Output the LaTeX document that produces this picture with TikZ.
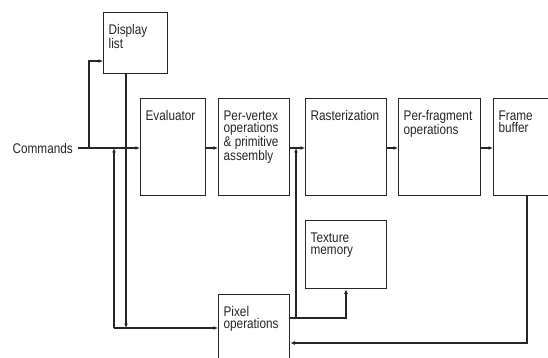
\documentclass[tikz,border=0pt]{standalone}
\usepackage{fontspec}
\setmainfont{Liberation Sans}[FakeStretch=0.84]
\usetikzlibrary{arrows.meta}
\begin{document}
\begin{tikzpicture}[x=1pt,y=-1pt,
  line width=1.3pt, draw=black!85,
  box/.style={draw=black!85, line width=1.4pt, anchor=north west, inner sep=0pt},
  lbl/.style={anchor=north west, inner sep=0pt, align=left, xshift=5pt, yshift=-12pt,
    font=\fontsize{14}{11.8}\selectfont, text=black!85},
  arr/.style={-{Latex[length=4.5pt,width=4pt]}},
  every node/.style={font=\fontsize{14}{11.8}\selectfont}]
\clip (0,0) rectangle (548,358);
\fill[white] (0,0) rectangle (548,358);
% boxes
\node[box, minimum width=64pt, minimum height=61pt,
  label={[lbl]north west:Display\\list}] (disp) at (103,12) {};
\node[box, minimum width=65pt, minimum height=97pt,
  label={[lbl]north west:Evaluator}] (eval) at (140,98) {};
\node[box, minimum width=71pt, minimum height=97pt,
  label={[lbl]north west:Per-vertex\\operations\\\& primitive\\assembly}] (vert) at (218,98) {};
\node[box, minimum width=81pt, minimum height=97pt,
  label={[lbl]north west:Rasterization}] (rast) at (305,98) {};
\node[box, minimum width=82pt, minimum height=97pt,
  label={[lbl]north west:Per-fragment\\operations}] (frag) at (398,98) {};
\node[box, minimum width=80pt, minimum height=97pt,
  label={[lbl]north west:Frame\\buffer}] (frame) at (493,98) {};
\node[box, minimum width=81pt, minimum height=68pt,
  label={[lbl]north west:Texture\\memory}] (tex) at (305,220) {};
\node[box, minimum width=71pt, minimum height=80pt,
  label={[lbl]north west:Pixel\\operations}] (pix) at (218,294) {};
\node[anchor=west, inner sep=0pt, text=black!85] (cmd) at (12,148) {Commands};
% coordinates
\coordinate (c0) at (78,148);
\coordinate (cb) at (89,148);
\coordinate (dl) at (126,328);
\coordinate (lp) at (114,328);
\coordinate (lt) at (114,148);
\coordinate (pr) at (296,318);
\coordinate (prt) at (296,148);
\coordinate (fb) at (527,343);
% connectors
\draw[arr] (c0) -- (eval.west |- c0);
\draw[arr] (cb) |- (disp.west |- 0,61);
\draw[arr] (disp.south -| dl) -- (dl);
\draw[arr] (lp) -- (pix.west |- lp);
\draw[arr] (lp) -- (lt);
\draw[arr] (eval.east |- c0) -- (vert.west |- c0);
\draw[arr] (vert.east |- c0) -- (rast.west |- c0);
\draw[arr] (rast.east |- c0) -- (frag.west |- c0);
\draw[arr] (frag.east |- c0) -- (frame.west |- c0);
\draw[arr] (pr) -- (prt);
\draw[arr] (pix.east |- pr) -- (346,318) -- (tex.south -| 346,0);
\draw[arr] (frame.south -| fb) -- (fb) -- (pix.east |- fb);
\end{tikzpicture}
\end{document}
